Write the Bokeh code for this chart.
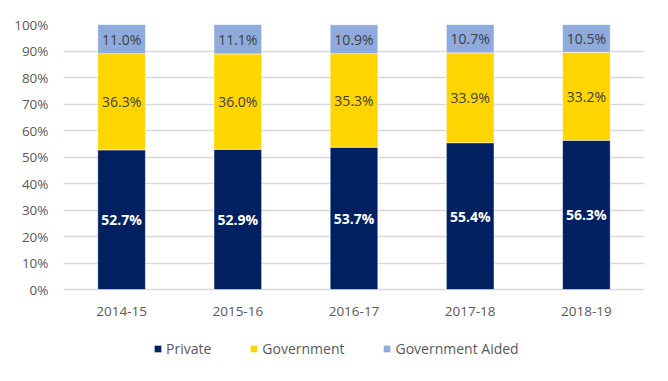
from bokeh.plotting import figure
from bokeh.models import ColumnDataSource, Range1d, FactorRange, Legend, LegendItem, PrintfTickFormatter, FixedTicker
from bokeh.core.properties import value
from bokeh.embed import file_html
from bokeh.resources import INLINE

years = ["2014-15", "2015-16", "2016-17", "2017-18", "2018-19"]
private = [52.7, 52.9, 53.7, 55.4, 56.3]
government = [36.3, 36.0, 35.3, 33.9, 33.2]
aided = [11.0, 11.1, 10.9, 10.7, 10.5]
series = ["Private", "Government", "Government Aided"]
colors = ["#002060", "#FFD500", "#8FAADC"]
yticks = list(range(0, 101, 10))

FONT = "Open Sans"

PX = 265 / 100.0          # pixels per percent unit
BELOW = 76 / PX            # extra space under 0 for labels & legend
gov_base = [p_ for p_ in private]
aid_base = [p_ + g for p_, g in zip(private, government)]

src = ColumnDataSource(dict(
    years=years, private=private, government=government, aided=aided,
    p_mid=[v / 2 for v in private],
    g_mid=[b + g / 2 for b, g in zip(gov_base, government)],
    a_mid=[b + a / 2 for b, a in zip(aid_base, aided)],
    p_lab=[f"{v:.1f}%" for v in private],
    g_lab=[f"{v:.1f}%" for v in government],
    a_lab=[f"{v:.1f}%" for v in aided],
    xlab_y=[-22 / PX] * len(years),
))

p = figure(x_range=FactorRange(*years, range_padding=0), y_range=Range1d(-BELOW, 100),
           frame_width=581, frame_height=341, output_backend="svg", toolbar_location=None,
           min_border_left=63, min_border_right=20, min_border_top=24, min_border_bottom=8)

rs = p.vbar_stack(["private", "government", "aided"], x="years", width=0.41, source=src,
                  color=colors, line_color="white", line_width=0.5)

p.text(x="years", y="p_mid", text="p_lab", source=src, text_align="center", text_baseline="middle",
       text_color="white", text_font=value(FONT), text_font_size="14px", text_font_style="bold")
p.text(x="years", y="g_mid", text="g_lab", source=src, text_align="center", text_baseline="middle",
       text_color="#404040", text_font=value(FONT), text_font_size="14px")
p.text(x="years", y="a_mid", text="a_lab", source=src, text_align="center", text_baseline="middle",
       text_color="#404040", text_font=value(FONT), text_font_size="14px")
# category labels (x axis)
p.text(x="years", y="xlab_y", text="years", source=src, text_align="center", text_baseline="middle",
       text_color="#595959", text_font=value(FONT), text_font_size="13.5px")

p.outline_line_color = None
p.xaxis.visible = False
p.xgrid.grid_line_color = None
p.ygrid.grid_line_color = "#D9D9D9"
p.ygrid.grid_line_width = 1.5
p.ygrid.ticker = FixedTicker(ticks=yticks)
p.yaxis.ticker = FixedTicker(ticks=yticks)
p.yaxis.formatter = PrintfTickFormatter(format="%d%%")
p.yaxis.axis_line_color = None
p.yaxis.major_tick_line_color = None
p.yaxis.minor_tick_line_color = None
p.yaxis.major_label_text_font = FONT
p.yaxis.major_label_text_font_size = "13.5px"
p.yaxis.major_label_text_color = "#595959"
p.yaxis.major_label_standoff = 9

legend = Legend(items=[LegendItem(label=s, renderers=[r]) for s, r in zip(series, rs)],
                orientation="horizontal", location=(90, 7),
                label_text_font=FONT, label_text_font_size="14px", label_text_color="#595959",
                glyph_width=9, glyph_height=9, spacing=38, label_standoff=4,
                border_line_color=None, background_fill_alpha=0, margin=0, padding=2)
p.add_layout(legend, "center")

open("out.html", "w").write(file_html(p, INLINE))
